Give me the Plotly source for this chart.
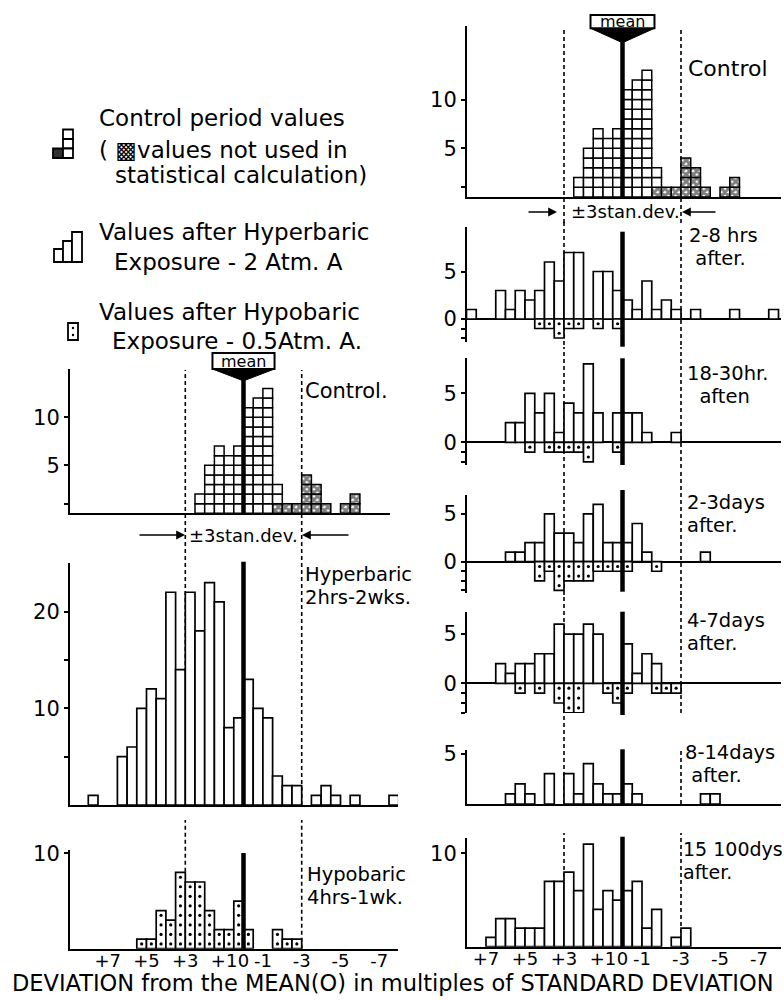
import plotly.graph_objects as go

# ---------------- data ----------------
# bin centres in multiples of the standard deviation (0.5 SD bins), positive deviations drawn on the left
BINS = [7.75, 7.25, 6.75, 6.25, 5.75, 5.25, 4.75, 4.25,
        3.75, 3.25, 2.75, 2.25, 1.75, 1.25, 0.75, 0.25,
        -0.25, -0.75, -1.25, -1.75, -2.25, -2.75, -3.25, -3.75,
        -4.25, -4.75, -5.25, -5.75, -6.25, -6.75, -7.25, -7.75]

CONTROL_USED = [0, 0, 0, 0, 0, 0, 0, 0,
                0, 0, 0, 2, 5, 7, 6, 7,
                11, 12, 13, 2, 0, 0, 0, 0,
                0, 0, 0, 0, 0, 0, 0, 0]
CONTROL_NOT_USED = [0, 0, 0, 0, 0, 0, 0, 0,
                    0, 0, 0, 0, 0, 0, 0, 0,
                    0, 0, 0, 1, 1, 1, 4, 3,
                    1, 0, 1, 2, 0, 0, 0, 0]

HYPER_2_8H = [1, 0, 0, 3, 1, 3, 2, 3,
              6, 4, 7, 7, 0, 5, 5, 3,
              2, 1, 4, 1, 2, 1, 0, 1,
              0, 0, 0, 1, 0, 0, 0, 1]
HYPO_2_8H = [0, 0, 0, 0, 0, 0, 0, 1,
             1, 2, 1, 1, 0, 1, 0, 1,
             0, 0, 0, 0, 0, 0, 0, 0,
             0, 0, 0, 0, 0, 0, 0, 0]
HYPER_18_30H = [0, 0, 0, 0, 2, 2, 5, 3,
                5, 1, 4, 3, 8, 3, 0, 3,
                3, 3, 1, 0, 0, 1, 0, 0,
                0, 0, 0, 0, 0, 0, 0, 0]
HYPO_18_30H = [0, 0, 0, 0, 0, 0, 1, 0,
               1, 1, 1, 1, 2, 0, 0, 1,
               0, 0, 0, 0, 0, 0, 0, 0,
               0, 0, 0, 0, 0, 0, 0, 0]
HYPER_2_3D = [0, 0, 0, 0, 1, 1, 2, 2,
              5, 3, 3, 2, 5, 6, 2, 2,
              2, 4, 1, 0, 0, 0, 0, 0,
              1, 0, 0, 0, 0, 0, 0, 0]
HYPO_2_3D = [0, 0, 0, 0, 0, 0, 0, 2,
             1, 3, 2, 2, 2, 1, 1, 1,
             1, 0, 0, 1, 0, 0, 0, 0,
             0, 0, 0, 0, 0, 0, 0, 0]
HYPER_4_7D = [0, 0, 0, 2, 1, 2, 2, 3,
              3, 6, 5, 5, 6, 5, 0, 0,
              4, 1, 3, 2, 0, 0, 0, 0,
              0, 0, 0, 0, 0, 0, 0, 0]
HYPO_4_7D = [0, 0, 0, 0, 0, 1, 0, 1,
             0, 2, 3, 3, 0, 0, 1, 2,
             1, 0, 0, 1, 1, 1, 0, 0,
             0, 0, 0, 0, 0, 0, 0, 0]
HYPER_8_14D = [0, 0, 0, 0, 1, 2, 1, 0,
               3, 0, 3, 1, 4, 2, 1, 1,
               2, 1, 0, 0, 0, 0, 0, 0,
               1, 1, 0, 0, 0, 0, 0, 0]
HYPER_15_100D = [0, 0, 1, 3, 3, 2, 2, 2,
                 7, 7, 8, 6, 11, 4, 6, 5,
                 6, 7, 2, 4, 0, 1, 2, 0,
                 0, 0, 0, 0, 0, 0, 0, 0]
HYPER_ALL = [1, 0, 0, 5, 6, 10, 12, 11,
             22, 14, 22, 18, 23, 21, 8, 9,
             13, 10, 9, 3, 2, 2, 0, 1,
             2, 1, 0, 1, 0, 0, 0, 1]
HYPO_ALL = [0, 0, 0, 0, 0, 1, 1, 4,
            3, 8, 7, 7, 4, 2, 2, 5,
            2, 0, 0, 2, 1, 1, 0, 0,
            0, 0, 0, 0, 0, 0, 0, 0]

TICK_VALS = [7, 5, 3, 1, 0, -1, -3, -5, -7]
TICK_TEXT = ["+7", "+5", "+3", "+1", "0", "-1", "-3", "-5", "-7"]
MEAN = 0
LIMIT = 3          # +/- 3 standard deviations
BIN_WIDTH = 0.5

# ---------------- layout helpers ----------------
W, H = 784, 1000
FONT = "DejaVu Sans"
BLACK = "black"
NB = "\u00a0"

RIGHT = (467, 781, 622.5, 19.5)   # x0 px, x1 px, mean px, px per SD
LEFT = (70, 398, 243.5, 19.4)

fig = go.Figure()
axes = {}


def names(n):
    return ("x" if n == 1 else f"x{n}"), ("y" if n == 1 else f"y{n}")


def py(y):
    return 1 - y / H


def add_axes(n, col, top, bottom, base, ppu, tv, tt, xline=True, zero=False, xticks=False, x1=None):
    x0, x1c, m, sd = col
    x1 = x1 if x1 is not None else x1c
    xa = dict(domain=[x0 / W, x1 / W], range=[(m - x0) / sd, (m - x1) / sd], anchor=names(n)[1],
              showgrid=False, zeroline=False, showline=xline, linecolor=BLACK, linewidth=2,
              ticks="", showticklabels=xticks, fixedrange=True, automargin=False, tickangle=0)
    if xticks:
        xa.update(tickmode="array", tickvals=TICK_VALS, ticktext=TICK_TEXT, ticklabelstandoff=-5,
                  tickfont=dict(size=18, color=BLACK, family=FONT))
    ya = dict(domain=[py(bottom), py(top)], range=[(base - bottom) / ppu, (base - top) / ppu],
              anchor=names(n)[0], showgrid=False, zeroline=zero, zerolinecolor=BLACK, zerolinewidth=2,
              showline=True, linecolor=BLACK, linewidth=2, ticks="outside", ticklen=4, tickwidth=2,
              tickcolor=BLACK, tickmode="array", tickvals=tv, ticktext=tt, automargin=False,
              tickfont=dict(size=21, color=BLACK, family=FONT), fixedrange=True)
    key = "" if n == 1 else str(n)
    axes["xaxis" + key] = xa
    axes["yaxis" + key] = ya


def open_bars(n, counts, sign=1):
    xa, ya = names(n)
    xs = [b for b, c in zip(BINS, counts) if c > 0]
    ys = [sign * c for c in counts if c > 0]
    fig.add_trace(go.Bar(x=xs, y=ys, width=BIN_WIDTH, xaxis=xa, yaxis=ya, showlegend=False,
                         hoverinfo="skip",
                         marker=dict(color="white", line=dict(color=BLACK, width=1.7))))


def dots(n, counts, sign=1):
    xa, ya = names(n)
    xs, ys = [], []
    for b, c in zip(BINS, counts):
        for k in range(c):
            xs.append(b)
            ys.append(sign * (k + 0.5))
    fig.add_trace(go.Scatter(x=xs, y=ys, mode="markers", xaxis=xa, yaxis=ya, showlegend=False,
                             hoverinfo="skip", marker=dict(size=3.2, color=BLACK)))


def cells(n, counts, bases, pattern=None):
    xa, ya = names(n)
    xs, bs = [], []
    for b, c, b0 in zip(BINS, counts, bases):
        for k in range(c):
            xs.append(b)
            bs.append(b0 + k)
    marker = dict(color="white", line=dict(color=BLACK, width=1.5))
    if pattern:
        marker["pattern"] = pattern
    fig.add_trace(go.Bar(x=xs, y=[1] * len(xs), base=bs, width=BIN_WIDTH, xaxis=xa, yaxis=ya,
                         showlegend=False, hoverinfo="skip", marker=marker))


HATCH = dict(shape="x", fgcolor=BLACK, bgcolor="white", size=5, solidity=0.8)
shapes = []


def vline(n, xval, top, bottom, width=1.6, dash=None, layer="below"):
    line = dict(color=BLACK, width=width)
    if dash:
        line["dash"] = dash
    shapes.append(dict(type="line", xref=names(n)[0], yref="paper", x0=xval, x1=xval,
                       y0=py(bottom), y1=py(top), line=line, layer=layer))


def limits(n, top, bottom, top_right=None):
    vline(n, MEAN + LIMIT, top, bottom, dash="4px,3px")
    vline(n, MEAN - LIMIT, top_right if top_right else top, bottom, dash="4px,3px")


def mean_marker(n, box_top, box_bottom, funnel_bottom, half):
    xa = names(n)[0]
    shapes.append(dict(type="path", xref=xa, yref="paper", layer="above",
                       path=f"M {MEAN + half},{py(box_bottom)} L {MEAN - half},{py(box_bottom)} "
                            f"L {MEAN - 0.12},{py(funnel_bottom)} L {MEAN + 0.12},{py(funnel_bottom)} Z",
                       fillcolor=BLACK, line=dict(color=BLACK, width=1)))
    shapes.append(dict(type="rect", xref=xa, yref="paper", layer="above",
                       x0=MEAN + half, x1=MEAN - half, y0=py(box_bottom), y1=py(box_top),
                       fillcolor="white", line=dict(color=BLACK, width=2)))
    fig.add_annotation(text="mean", x=MEAN, y=py((box_top + box_bottom) / 2), xref=xa, yref="paper",
                       xanchor="center", yanchor="middle", showarrow=False,
                       font=dict(size=16, color=BLACK, family=FONT))


def label(text, x, y, size=21, anchor="left"):
    fig.add_annotation(text=text, x=x / W, y=py(y), xref="paper", yref="paper", xanchor=anchor,
                       yanchor="middle", showarrow=False, font=dict(size=size, color=BLACK, family=FONT))


def label2(line1, line2, x, y, size=19.5, base=17.5):
    # two lines in one annotation: base font sets the line spacing, span sets glyph size
    txt = (f'<span style="font-size:{size}px">{line1}</span><br>'
           f'<span style="font-size:{size}px">{line2}</span>')
    fig.add_annotation(text=txt, x=x / W, y=py(y), xref="paper", yref="paper", xanchor="left",
                       yanchor="middle", align="left", showarrow=False,
                       font=dict(size=base, color=BLACK, family=FONT))


def arrow(x_tip, x_tail, y):
    fig.add_annotation(text="", x=x_tip / W, y=py(y), xref="paper", yref="paper", ax=x_tail - x_tip,
                       ay=0, showarrow=True, arrowhead=2, arrowsize=1.1, arrowwidth=1.6, arrowcolor=BLACK)


def stan_dev(center, x_tip_l, x_tail_l, x_tip_r, x_tail_r, y):
    arrow(x_tip_l, x_tail_l, y)
    arrow(x_tip_r, x_tail_r, y)
    label("±3stan.dev.", center, y, size=18, anchor="center")


# ---------------- right column ----------------
# R1 control
add_axes(1, RIGHT, 26, 197, 197, 9.75, [1, 5, 10], ["", "5", "10"])
cells(1, CONTROL_NOT_USED, [0] * len(BINS), pattern=HATCH)
cells(1, CONTROL_USED, CONTROL_NOT_USED)
limits(1, 27, 223)
vline(1, MEAN, 41.7, 197, width=4.5, layer="above")
mean_marker(1, 15, 28.3, 41.7, 1.64)
stan_dev(625, 557, 527, 682, 717, 212)
label("Control", 686, 68, size=22)

# R2 2-8 hrs
add_axes(2, RIGHT, 227, 342, 319, 9.5, [-2, -1, 0, 5], ["", "", "0", "5"], xline=False, zero=True)
open_bars(2, HYPER_2_8H)
open_bars(2, HYPO_2_8H, -1)
dots(2, HYPO_2_8H, -1)
limits(2, 222, 345, 230)
vline(2, MEAN, 231.7, 346.7, width=4.5, layer="above")
label2("2-8 hrs", NB + "after.", 687, 247)

# R3 18-30 hr
add_axes(3, RIGHT, 358, 465, 442.3, 9.8, [-2, -1, 0, 5], ["", "", "0", "5"], xline=False, zero=True)
open_bars(3, HYPER_18_30H)
open_bars(3, HYPO_18_30H, -1)
dots(3, HYPO_18_30H, -1)
limits(3, 347, 468)
vline(3, MEAN, 358.3, 465, width=4.5, layer="above")
label2("18-30hr.", NB + NB + "aften", 685, 385)

# R4 2-3 days
add_axes(4, RIGHT, 495, 593, 561.7, 9.55, [-3, -2, -1, 0, 5], ["", "", "", "0", "5"], xline=False, zero=True)
open_bars(4, HYPER_2_3D)
open_bars(4, HYPO_2_3D, -1)
dots(4, HYPO_2_3D, -1)
limits(4, 470, 595)
vline(4, MEAN, 490, 591.7, width=4.5, layer="above")
label2("2-3days", "after.", 685, 514)

# R5 4-7 days
add_axes(5, RIGHT, 612, 713, 683.3, 9.85, [-3, -2, -1, 0, 5], ["", "", "", "0", "5"], xline=False, zero=True)
open_bars(5, HYPER_4_7D)
open_bars(5, HYPO_4_7D, -1)
dots(5, HYPO_4_7D, -1)
limits(5, 597, 713)
vline(5, MEAN, 611.7, 715, width=4.5, layer="above")
label2("4-7days", "after.", 685, 632)

# R6 8-14 days
add_axes(6, RIGHT, 750, 804, 804, 10.1, [5], ["5"])
open_bars(6, HYPER_8_14D)
limits(6, 713, 804, 750)
vline(6, MEAN, 749.3, 804, width=4.5, layer="above")
label2("8-14days", NB + "after.", 683, 764)

# R7 15-100 days
add_axes(7, RIGHT, 838, 946.7, 946.7, 9.33, [10], ["10"], xticks=True)
open_bars(7, HYPER_15_100D)
limits(7, 833, 947)
vline(7, MEAN, 836.7, 946.7, width=4.5, layer="above")
label2("15 100dys", "after.", 681, 860, size=19)

# ---------------- left column ----------------
# L1 control
add_axes(8, LEFT, 369, 513.3, 513.3, 9.6, [1, 5, 10], ["", "5", "10"], x1=390)
cells(8, CONTROL_NOT_USED, [0] * len(BINS), pattern=HATCH)
cells(8, CONTROL_USED, CONTROL_NOT_USED)
limits(8, 370, 805)
vline(8, MEAN, 380, 513.3, width=4.5, layer="above")
mean_marker(8, 353, 369, 380, 1.6)
stan_dev(243.5, 185, 138, 302, 350, 535)
label("Control.", 303, 391)

# L2 hyperbaric 2hrs-2wks
add_axes(9, LEFT, 563, 805, 805, 9.67, [5, 10, 15, 20], ["", "10", "", "20"])
open_bars(9, HYPER_ALL)
vline(9, MEAN, 561.7, 805, width=4.5, layer="above")
label2("Hyperbaric", "2hrs-2wks.", 303, 586)

# L3 hypobaric 4hrs-1wk
add_axes(10, LEFT, 850, 948.7, 948.7, 9.53, [10], ["10"], xticks=True)
open_bars(10, HYPO_ALL)
dots(10, HYPO_ALL)
limits(10, 820, 948.7)
vline(10, MEAN, 853, 948.7, width=4.5, layer="above")
label2("Hypobaric", "4hrs-1wk.", 305, 886)

# ---------------- legend (top left) ----------------
label("Control period values", 97, 118, size=23)
label("( ▩values not used in", 97, 150, size=23)
label("statistical calculation)", 113, 175, size=23)
label("Values after Hyperbaric", 97, 232, size=23)
label("Exposure - 2 Atm. A", 112, 262, size=23)
label("Values after Hypobaric", 97, 312, size=23)
label("Exposure - 0.5Atm. A.", 110, 341, size=23)


def prect(x0, y0, x1, y1, fill="white", width=1.8):
    shapes.append(dict(type="rect", xref="paper", yref="paper", x0=x0 / W, x1=x1 / W, y0=py(y1), y1=py(y0),
                       fillcolor=fill, line=dict(color=BLACK, width=width), layer="above"))


# control icon
prect(53, 148.5, 63, 158, fill="#303030")
prect(63, 129.5, 73, 139)
prect(63, 139, 73, 148.5)
prect(63, 148.5, 73, 158)
# hyperbaric icon
prect(54, 249, 63, 262)
prect(63, 241, 72, 262)
prect(72, 232, 82, 262)
# hypobaric icon
prect(68, 323, 78, 340)
shapes.append(dict(type="circle", xref="paper", yref="paper", x0=71.8 / W, x1=74.2 / W, y0=py(329.2),
                   y1=py(326.8), fillcolor=BLACK, line=dict(width=0), layer="above"))
shapes.append(dict(type="circle", xref="paper", yref="paper", x0=71.8 / W, x1=74.2 / W, y0=py(336.2),
                   y1=py(333.8), fillcolor=BLACK, line=dict(width=0), layer="above"))

# axis title
label("DEVIATION from the MEAN(O) in multiples of STANDARD DEVIATION", 392, 983, size=22.5, anchor="center")

fig.update_layout(width=W, height=H, margin=dict(l=0, r=0, t=0, b=0, autoexpand=False), paper_bgcolor="white",
                  plot_bgcolor="rgba(0,0,0,0)", barmode="overlay", showlegend=False,
                  font=dict(family=FONT, color=BLACK), shapes=shapes, **axes)

fig.write_html("out.html")
